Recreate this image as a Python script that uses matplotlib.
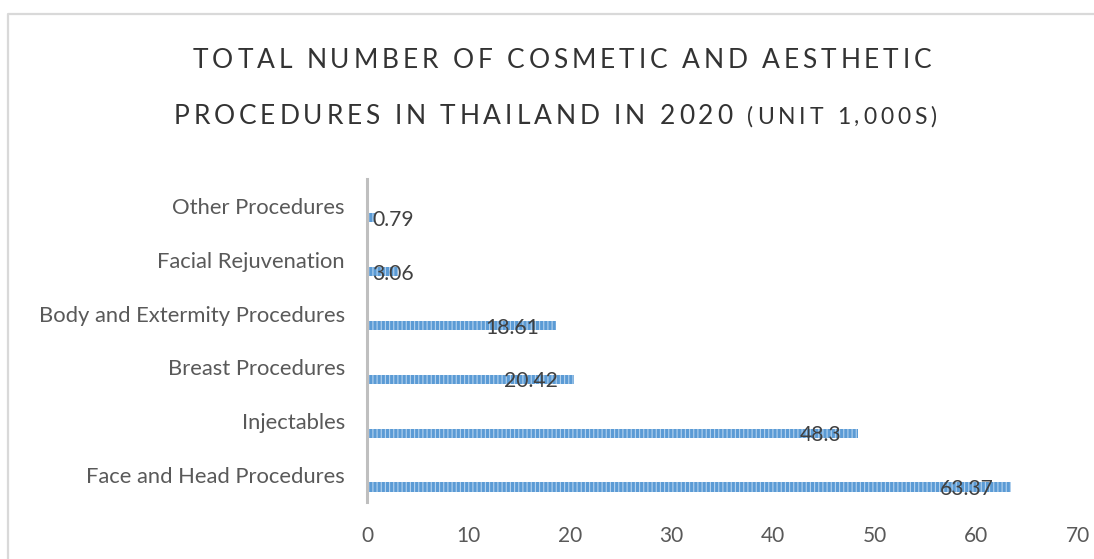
import matplotlib
matplotlib.use("Agg")
import matplotlib.pyplot as plt
from matplotlib.lines import Line2D

plt.rcParams['font.family'] = ['Lato', 'DejaVu Sans']
plt.rcParams['hatch.linewidth'] = 0.8

categories = ["Face and Head Procedures", "Injectables", "Breast Procedures",
              "Body and Extermity Procedures", "Facial Rejuvenation", "Other Procedures"]
values = [63.37, 48.3, 20.42, 18.61, 3.06, 0.79]
xticks = [0, 10, 20, 30, 40, 50, 60, 70]

W, H = 1094, 559
fig = plt.figure(figsize=(W / 100, H / 100), dpi=100)
ax = fig.add_axes([367 / W, 1 - 502 / H, (1078 - 367) / W, (502 - 179) / H])

# outer chart frame, cut off at the right and bottom
fig.add_artist(Line2D([8 / W, 8 / W, 1.0], [0.0, 1 - 14 / H, 1 - 14 / H],
                      transform=fig.transFigure, color='#D9D9D9', lw=1.6))

ypos = [i - 0.22 for i in range(len(categories))]
ax.barh(ypos, values, height=0.17, color='#5B9BD5', edgecolor='#B4D2EE',
        linewidth=0, hatch='||||')

ax.set_xlim(0, 70)
ax.set_ylim(-0.5, len(categories) - 0.5)
ax.set_xticks(xticks)
ax.set_yticks(range(len(categories)))
ax.set_yticklabels(categories)
ax.tick_params(axis='y', length=0, pad=16, labelsize=15.8, labelcolor='#595959')
ax.tick_params(axis='x', length=0, pad=17, labelsize=15, labelcolor='#595959')
for s in ['top', 'right', 'bottom']:
    ax.spines[s].set_visible(False)
ax.spines['left'].set_color('#BFBFBF')
ax.spines['left'].set_linewidth(2.2)

# value labels: inside end of bar, pushed right of axis when bar is too short
fig.canvas.draw()
renderer = fig.canvas.get_renderer()
px_per_unit = ax.transData.transform((1, 0))[0] - ax.transData.transform((0, 0))[0]
for y, v in zip(ypos, values):
    t = ax.annotate(f"{v:g}", (v, y), xytext=(-12, -1.5), textcoords='offset points',
                    ha='right', va='center', fontsize=15.2, color='#404040')
    w = t.get_window_extent(renderer).width
    if v * px_per_unit - 17 < w + 5:
        t.remove()
        ax.annotate(f"{v:g}", (0, y), xytext=(4, -1.5), textcoords='offset points',
                    ha='left', va='center', fontsize=15.2, color='#404040')


def spaced_line(parts, y_px, track, shift):
    # draw text with wide letter spacing, centred horizontally
    pieces = []
    total = 0
    for text, size in parts:
        for ch in text:
            t = fig.text(0, 0, ch, fontsize=size, color='#333333')
            w = t.get_window_extent(renderer).width if ch != ' ' else size * 0.35
            t.remove()
            pieces.append((ch, size, w))
            total += w + track
    total -= track
    x = (W - total) / 2 + shift
    for ch, size, w in pieces:
        fig.text(x / W, 1 - y_px / H, ch, fontsize=size, color='#333333',
                 ha='left', va='center')
        x += w + track


spaced_line([("TOTAL NUMBER OF COSMETIC AND AESTHETIC", 19)], 61, 3.9, 15)
spaced_line([("PROCEDURES IN THAILAND IN 2020 ", 19), ("(UNIT 1,000S)", 16.5)], 117, 3.9, 8)

fig.savefig("out.png", dpi=100)
